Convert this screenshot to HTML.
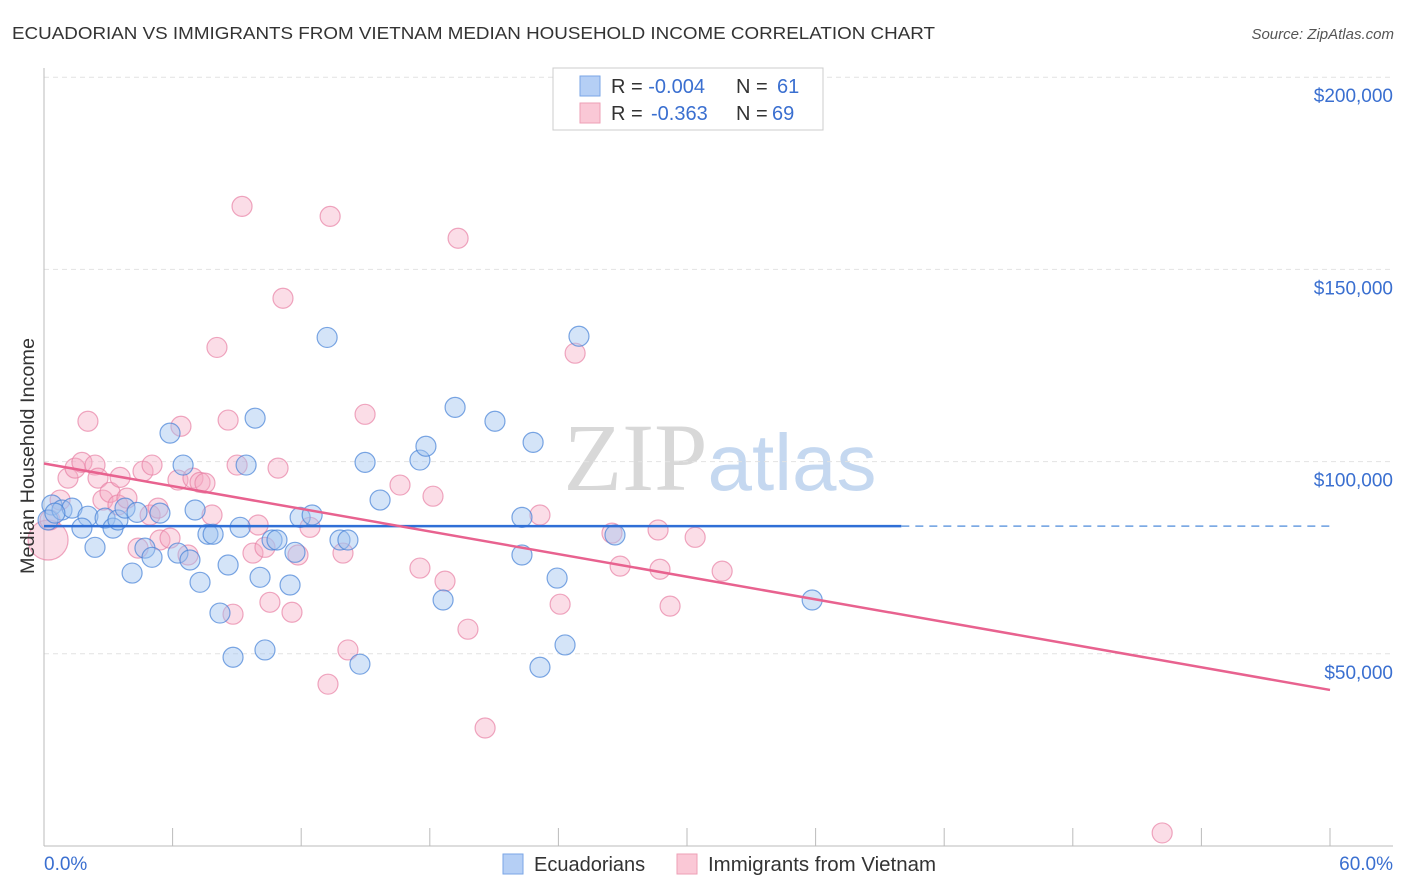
<!DOCTYPE html>
<html><head><meta charset="utf-8"><style>
body{margin:0;background:#fff;font-family:"Liberation Sans",sans-serif;}
svg{display:block}
</style></head><body>
<svg id="chart" width="1406" height="892" xmlns="http://www.w3.org/2000/svg" font-family="Liberation Sans, sans-serif">
<text x="12" y="39" font-size="17.5" fill="#333" textLength="923" lengthAdjust="spacingAndGlyphs">ECUADORIAN VS IMMIGRANTS FROM VIETNAM MEDIAN HOUSEHOLD INCOME CORRELATION CHART</text>
<text x="1394" y="39" font-size="15" fill="#555" text-anchor="end" font-style="italic">Source: ZipAtlas.com</text>
<text x="720" y="490" font-size="96" text-anchor="middle"><tspan fill="#d8d8d8" font-family="Liberation Serif, serif">ZIP</tspan><tspan fill="#c5d8f0" font-size="80">atlas</tspan></text>
<g id="grid"></g>
<g id="axes"></g>
<g id="marks"></g>
<text transform="translate(34,456) rotate(-90)" font-size="19" fill="#333" text-anchor="middle" textLength="236" lengthAdjust="spacingAndGlyphs">Median Household Income</text>
<g>
<rect x="553" y="68" width="270" height="62" fill="#fff" stroke="#ccc"/>
<rect x="580" y="76" width="20" height="20" fill="#b5cff5" stroke="#7aa6e6"/>
<rect x="580" y="103" width="20" height="20" fill="#fac8d6" stroke="#ee9fb6"/>
<text x="611" y="93" font-size="20" fill="#333">R = <tspan fill="#3a6fd0">-0.004</tspan><tspan x="736">N = </tspan><tspan x="777" fill="#3a6fd0">61</tspan></text>
<text x="611" y="120" font-size="20" fill="#333">R = <tspan x="651" fill="#3a6fd0">-0.363</tspan><tspan x="736">N = </tspan><tspan x="772" fill="#3a6fd0">69</tspan></text>
</g>
<g>
<rect x="503" y="854" width="20" height="20" fill="#b5cff5" stroke="#7aa6e6"/>
<text x="534" y="871" font-size="20" fill="#333">Ecuadorians</text>
<rect x="677" y="854" width="20" height="20" fill="#fac8d6" stroke="#ee9fb6"/>
<text x="708" y="871" font-size="20" fill="#333" textLength="228" lengthAdjust="spacingAndGlyphs">Immigrants from Vietnam</text>
</g>
</svg>
<script>
const xTicks=[0,6,12,18,24,30,36,42,48,54,60];
const yTicks=[50,100,150,200];
const yTickLabels=["$50,000","$100,000","$150,000","$200,000"];
const blueX=[0.37,0.19,0.84,1.31,2.05,2.38,1.77,2.85,3.22,3.45,3.78,4.34,4.71,5.04,4.11,5.41,5.88,6.49,6.25,6.81,7.05,7.28,7.65,7.89,8.21,8.59,8.82,9.15,9.43,9.85,10.08,10.31,10.64,10.87,11.48,11.71,11.95,12.51,13.21,13.81,14.18,14.74,14.98,15.68,17.54,17.82,18.62,19.18,21.04,22.30,22.30,22.82,23.14,23.94,24.31,24.96,26.64,35.84,0.51];
const blueY=[88.7,84.8,87.4,87.9,85.8,77.7,82.7,85.3,82.7,84.8,87.9,86.8,77.5,75.1,71.0,86.6,107.4,99.1,76.2,74.4,87.4,68.6,81.1,81.1,60.6,73.1,49.1,82.9,99.1,111.3,69.9,51.0,79.6,79.6,67.9,76.4,85.5,86.1,132.3,79.6,79.6,47.3,99.8,90.0,100.4,104.0,64.0,114.1,110.5,85.5,75.7,105.0,46.5,69.7,52.3,132.6,80.9,64.0,86.6];
const pinkX=[0.19,0.28,0.75,1.12,1.45,1.77,2.05,2.38,2.52,2.75,3.08,3.45,3.55,3.87,4.39,4.62,5.04,4.95,5.32,5.41,5.88,6.25,6.39,6.72,6.95,7.28,7.51,7.84,8.07,8.59,8.82,9.01,9.24,9.75,9.99,10.31,10.54,10.92,11.15,11.57,11.85,12.41,13.35,13.95,14.18,13.25,14.98,16.61,17.54,18.15,18.71,19.32,19.78,20.58,23.14,24.08,24.78,26.50,26.88,28.65,28.74,29.21,30.38,31.64,52.17];
const pinkY=[79.6,84.8,90.0,95.7,98.3,99.8,110.5,99.1,95.7,90.0,92.0,88.7,95.9,90.5,77.5,97.5,99.1,86.1,87.9,79.6,80.1,95.2,109.2,75.7,95.7,94.6,94.4,86.1,129.7,110.8,60.3,99.1,166.4,76.2,83.5,77.7,63.4,98.3,142.5,60.8,75.7,82.9,163.8,76.2,51.0,42.1,112.3,93.9,72.3,91.0,68.9,158.1,56.4,30.7,86.1,62.9,128.2,81.4,72.8,82.2,72.0,62.4,80.3,71.5,3.4];
const blueTrend=[83.2,83.2];
const pinkTrend=[99.5,40.6];
const trendX=[0,60];
const blueSolidEnd=40;

const NS="http://www.w3.org/2000/svg";
const X=v=>44+v/60*1286;
const Y=v=>846-v*3.844;
function mk(tag,attrs,parent){const e=document.createElementNS(NS,tag);for(const k in attrs)e.setAttribute(k,attrs[k]);parent.appendChild(e);return e;}
const grid=document.getElementById('grid'),axes=document.getElementById('axes'),marks=document.getElementById('marks');
yTicks.forEach((t,i)=>{
  const l=mk('line',{x1:44,x2:1393,y1:Y(t),y2:Y(t),stroke:'#e2e2e2','stroke-dasharray':'5,4'},grid);
  
  
  const tx=mk('text',{x:1393,y:Y(t)+25,'font-size':19,fill:'#3a6fd0','text-anchor':'end'},axes);
  tx.textContent=yTickLabels[i];
  
  
});
const ax=mk('line',{x1:44,x2:44,y1:68,y2:846,stroke:'#bbb'},axes);


const bx=mk('line',{x1:44,x2:1393,y1:846,y2:846,stroke:'#bbb'},axes);


xTicks.forEach(t=>{
  const l=mk('line',{x1:X(t),x2:X(t),y1:828,y2:846,stroke:'#bbb'},axes);
  
  
});
const xl0=mk('text',{x:44,y:870,'font-size':19,fill:'#3a6fd0'},axes);xl0.textContent=xTicks[0].toFixed(1)+'%';


const xl1=mk('text',{x:1393,y:870,'font-size':19,fill:'#3a6fd0','text-anchor':'end'},axes);xl1.textContent=xTicks[xTicks.length-1].toFixed(1)+'%';



pinkX.forEach((x,i)=>{
  const c=mk('circle',{cx:X(x),cy:Y(pinkY[i]),r:i===0?20:10,fill:'rgba(246,170,195,0.4)',stroke:'rgba(232,130,165,0.7)','stroke-width':1.2},marks);
  
  
});
blueX.forEach((x,i)=>{
  const c=mk('circle',{cx:X(x),cy:Y(blueY[i]),r:10,fill:'rgba(160,195,240,0.45)',stroke:'rgba(70,130,215,0.7)','stroke-width':1.2},marks);
  
  
});
const bs=(blueTrend[1]-blueTrend[0])/(trendX[1]-trendX[0]);
const bl=mk('line',{x1:X(trendX[0]),y1:Y(blueTrend[0]),x2:X(blueSolidEnd),y2:Y(blueTrend[0]+bs*blueSolidEnd),stroke:'#2f6fd6','stroke-width':2.5},marks);


const bd=mk('line',{x1:X(blueSolidEnd),y1:Y(blueTrend[0]+bs*blueSolidEnd),x2:X(trendX[1]),y2:Y(blueTrend[1]),stroke:'#6a9ee0','stroke-width':1.5,'stroke-dasharray':'8,6'},marks);


const pl=mk('line',{x1:X(trendX[0]),y1:Y(pinkTrend[0]),x2:X(trendX[1]),y2:Y(pinkTrend[1]),stroke:'#e8628f','stroke-width':2.5},marks);


</script>
</body></html>
